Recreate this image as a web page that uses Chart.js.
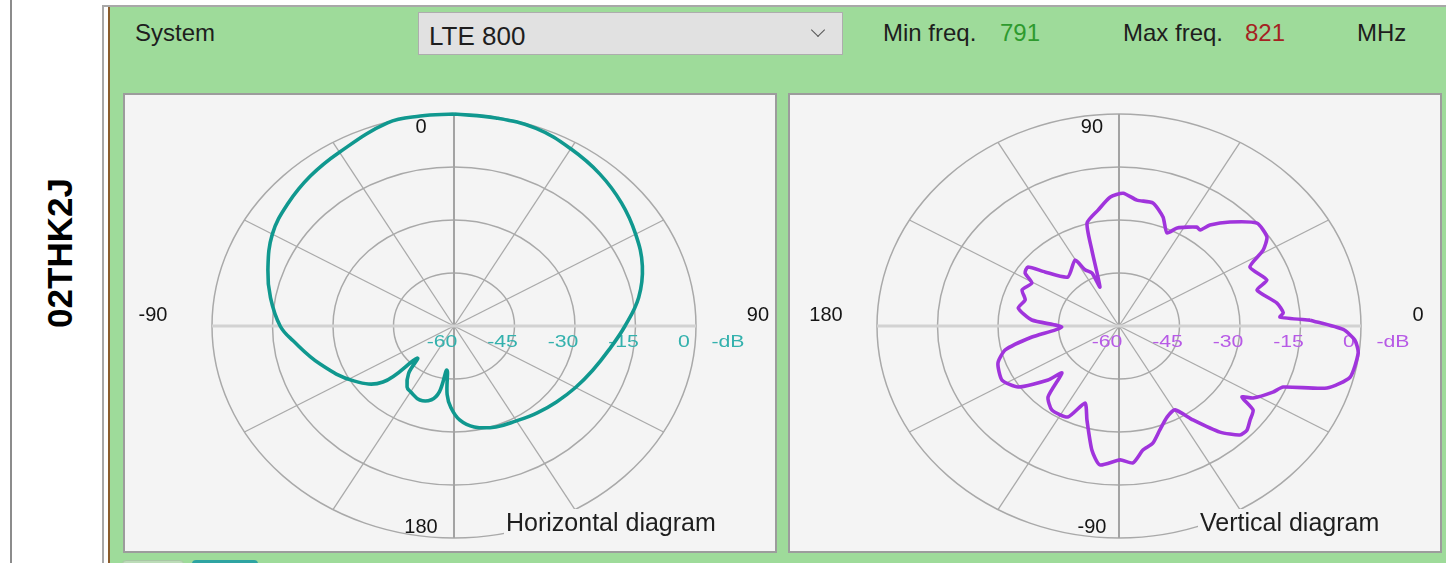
<!DOCTYPE html>
<html lang="en">
<head>
<meta charset="UTF-8">
<title>Antenna diagrams - LTE 800</title>
<script src="https://cdn.jsdelivr.net/npm/chart.js@4.4.0/dist/chart.umd.min.js"></script>
<style>
    body {
        margin: 0;
        width: 1446px;
        height: 563px;
        background: #fff;
        position: relative;
        overflow: hidden;
        font-family: 'Liberation Sans', Arial, sans-serif;
        color: #1e1e1e;
    }
    .abs { position: absolute; }
    .rule { left: 10px; top: 0; width: 2px; height: 563px; background: #8c8c8c; }
    .antenna-id {
        left: 60px; top: 253px;
        transform: translate(-50%, -50%) rotate(-90deg);
        font-weight: bold; font-size: 35px; color: #000; white-space: nowrap;
    }
    .frame { left: 102px; top: 5px; width: 1344px; height: 558px; border-left: 2px solid #a8a8a8; border-top: 2px solid #a8a8a8; }
    .green { left: 108px; top: 7px; width: 1338px; height: 556px; background: #9edb9a; border-left: 2px solid #8a5c2c; }
    .txt { font-size: 24px; line-height: 1; white-space: nowrap; }
    .combo { left: 418px; top: 12px; width: 423px; height: 41px; background: #e1e1e1; border: 1px solid #adadad; }
    .combo span { position: absolute; left: 10px; top: 8px; font-size: 26px; }
    .chev { left: 813px; top: 25px; width: 9px; height: 9px; border-right: 1.5px solid #555; border-bottom: 1.5px solid #555; transform: rotate(45deg); }
    .panel { width: 650px; height: 456px; background: #f4f4f4; border: 2px solid #9c9c9c; top: 93px; }
    .panel canvas { display: block; }
    .tab { top: 560px; height: 8px; border-radius: 4px 4px 0 0; }
</style>
</head>
<body>

<div class="abs rule"></div>
<div class="abs antenna-id" id="antennaId"></div>
<div class="abs frame"></div>
<div class="abs green"></div>

<div class="abs txt" style="left:135px; top:21px;">System</div>
<div class="abs combo"><span id="systemName"></span></div>
<div class="abs chev"></div>
<div class="abs txt" style="left:883px; top:21px;">Min freq.</div>
<div class="abs txt" id="minFreq" style="left:1000px; top:21px; color:#2e9a2e;"></div>
<div class="abs txt" style="left:1123px; top:21px;">Max freq.</div>
<div class="abs txt" id="maxFreq" style="left:1245px; top:21px; color:#a52222;"></div>
<div class="abs txt" style="left:1357px; top:21px;">MHz</div>

<div class="abs panel" style="left:123px;"><canvas id="hChart" width="650" height="456"></canvas></div>
<div class="abs panel" style="left:788px;"><canvas id="vChart" width="650" height="456"></canvas></div>

<div class="abs tab" style="left:122px; width:60px; background:#bcdcb8; border:1px solid #a9c7a5;"></div>
<div class="abs tab" style="left:192px; width:66px; background:#2ea4a2;"></div>

<script>
    // Cabecera
    const antennaId = '02THK2J';
    const systemName = 'LTE 800';
    const minFreq = 791;
    const maxFreq = 821;

    // Escala radial (dB) y etiquetas de los ejes
    const ringLevels = [-60, -45, -30, -15, 0];
    const unitLabel = '-dB';
    const hCompass = ['0', '90', '180', '-90'];     // arriba, derecha, abajo, izquierda
    const vCompass = ['90', '0', '-90', '180'];

    // Diagrama horizontal: ángulo en grados (horario desde arriba), nivel en dB
    const hAngles = [0, 10, 20, 30, 40, 50, 60, 70, 80, 90, 100, 110, 120, 130, 140, 150, 160, 170,
                     177, 182, 185, 188, 191, 195, 202, 210, 214, 220, 225, 228, 238, 252, 264, 270,
                     280, 289, 300, 310, 320, 330, 344, 352];
    const hLevels = [0, -0.2, -0.5, -2.1, -3.8, -5.8, -8.0, -10.3, -13.5, -17.6, -21.0, -23.4, -25.2, -26.7, -27.9, -29.0, -29.6, -31.0,
                     -33.4, -37.0, -40.5, -47.4, -41.0, -38.4, -37.4, -38.5, -39.2, -42.5, -47.1, -36.3, -30.7, -25.1, -19.9, -16.9,
                     -13.8, -11.2, -8.0, -6.2, -4.6, -3.2, -0.2, 0];

    // Diagrama vertical: ángulo en grados (antihorario desde la derecha), nivel en dB
    const vAngles = [2.0, 3.6, 5.2, 9.4, 16.6, 19.5, 27.2, 31.0, 34.5, 40.4, 46.9, 51.7, 53.5, 55.4, 62.5, 65.7,
                     70.5, 76.4, 82.9, 88.4, 93.5, 99.0, 105.2, 107.4, 113.2, 114.0, 117.9, 120.3, 132.4, 140.2,
                     143.5, 147.2, 150.6, 157.0, 162.4, 168.5, 175.5, 181.2, 188.2, 193.5, 199.3, 207.8, 214.6,
                     221.0, 223.2, 228.8, 235.0, 243.8, 248.9, 253.4, 259.2, 263.1, 270.4, 275.1, 279.6, 284.2,
                     289.0, 294.8, 300.3, 304.6, 309.8, 314.2, 317.1, 320.7, 324.4, 326.6, 328.5, 333.9, 337.0,
                     341.2, 345.8, 352.7, 356.1, 359.0];
    const vLevels = [-12.6, -20.0, -19.1, -20.3, -24.3, -21.1, -23.5, -18.3, -15.5, -15.1, -19.7, -23.6, -26.2, -26.0, -28.7, -31.1,
                     -27.3, -24.2, -24.1, -22.4, -23.5, -26.8, -29.8, -37.5, -48.0, -43.6, -42.0, -38.4, -41.2, -36.1,
                     -31.9, -32.3, -35.2, -33.9, -35.6, -34.5, -38.3, -45.8, -38.2, -31.0, -28.2, -27.2, -29.6,
                     -36.7, -40.6, -33.3, -31.0, -31.3, -36.6, -32.2, -24.2, -20.4, -22.1, -21.1, -24.4, -25.8,
                     -28.9, -31.6, -32.5, -27.7, -20.9, -17.0, -16.7, -18.0, -19.1, -23.5, -21.0, -17.5, -15.8,
                     -5.5, -0.9, -0.2, -1.4, -4.4];

    document.getElementById('antennaId').textContent = antennaId;
    document.getElementById('systemName').textContent = systemName;
    document.getElementById('minFreq').textContent = minFreq;
    document.getElementById('maxFreq').textContent = maxFreq;

    const base = ringLevels[0];
    const rMax = ringLevels[ringLevels.length - 1] - base;

    // Pasa (ángulo, dB) a coordenadas x/y del gráfico
    function toPoints(angles, levels, clockwiseFromTop) {
        const pts = angles.map((a, i) => {
            const r = Math.max(0, levels[i] - base);
            const rad = a * Math.PI / 180;
            return clockwiseFromTop
                ? { x: r * Math.sin(rad), y: r * Math.cos(rad) }
                : { x: r * Math.cos(rad), y: r * Math.sin(rad) };
        });
        pts.push(pts[0]); // cerrar la curva
        return pts;
    }

    function stretchedText(ctx, text, x, y, sx) {
        ctx.save();
        ctx.translate(x, y);
        ctx.scale(sx, 1);
        ctx.fillText(text, 0, 0);
        ctx.restore();
    }

    // Rejilla polar elíptica, etiquetas y título
    const polarGrid = {
        id: 'polarGrid',
        beforeDatasetsDraw(chart, args, opts) {
            const ctx = chart.ctx;
            const xs = chart.scales.x, ys = chart.scales.y;
            const cx = xs.getPixelForValue(0), cy = ys.getPixelForValue(0);
            const Rx = xs.getPixelForValue(rMax) - cx;
            const Ry = cy - ys.getPixelForValue(rMax);
            ctx.save();

            // anillos
            ctx.strokeStyle = '#a9a9a9';
            ctx.lineWidth = 1.5;
            ringLevels.slice(1).forEach(l => {
                const r = l - base;
                ctx.beginPath();
                ctx.ellipse(cx, cy, xs.getPixelForValue(r) - cx, cy - ys.getPixelForValue(r), 0, 0, Math.PI * 2);
                ctx.stroke();
            });

            // radios cada 30 grados
            ctx.lineWidth = 1.3;
            for (let k = 0; k < 12; k++) {
                if (k % 3 === 0) continue;
                const a = k * Math.PI / 6;
                ctx.beginPath();
                ctx.moveTo(cx, cy);
                ctx.lineTo(cx + Rx * Math.sin(a), cy - Ry * Math.cos(a));
                ctx.stroke();
            }
            // ejes
            ctx.strokeStyle = '#a3a3a3';
            ctx.lineWidth = 2;
            ctx.beginPath();
            ctx.moveTo(cx, cy - Ry);
            ctx.lineTo(cx, cy + Ry);
            ctx.stroke();
            ctx.strokeStyle = '#d2d2d2';
            ctx.lineWidth = 3;
            ctx.beginPath();
            ctx.moveTo(cx - Rx, cy);
            ctx.lineTo(cx + Rx, cy);
            ctx.stroke();

            // etiquetas de nivel
            ctx.fillStyle = opts.tickColor;
            ctx.font = '17px "Liberation Sans", Arial, sans-serif';
            ctx.textAlign = 'center';
            ctx.textBaseline = 'middle';
            ringLevels.forEach(l => {
                const px = xs.getPixelForValue(l - base);
                stretchedText(ctx, String(l), px - 12, cy + 16, 1.25);
            });
            stretchedText(ctx, unitLabel, cx + Rx + 32, cy + 16, 1.25);

            // etiquetas de ángulo
            ctx.fillStyle = '#151515';
            ctx.font = '20px "Liberation Sans", Arial, sans-serif';
            const c = opts.compass;
            ctx.fillText(c[0], cx + opts.topDx, cy - 199);
            ctx.fillText(c[1], cx + opts.rightDx, cy - 11);
            ctx.fillText(c[2], cx + opts.topDx, cy + 201);
            ctx.fillText(c[3], cx + opts.leftDx, cy - 11);

            // título del diagrama
            ctx.font = '25px "Liberation Sans", Arial, sans-serif';
            ctx.textAlign = 'left';
            const w = ctx.measureText(opts.title).width;
            ctx.fillStyle = '#f4f4f4';
            ctx.fillRect(opts.titleX - 2, 414, w + 6, 40);
            ctx.fillStyle = '#1e1e1e';
            ctx.fillText(opts.title, opts.titleX, 429);
            ctx.restore();
        }
    };

    function makeChart(id, points, color, tension, gridOpts) {
        return new Chart(document.getElementById(id).getContext('2d'), {
            type: 'scatter',
            data: {
                datasets: [{
                    data: points,
                    showLine: true,
                    borderColor: color,
                    borderWidth: 3.6,
                    pointRadius: 0,
                    tension: tension,
                    fill: false
                }]
            },
            options: {
                responsive: false,
                animation: false,
                devicePixelRatio: 1,
                layout: { padding: 0 },
                plugins: {
                    legend: { display: false },
                    tooltip: { enabled: false },
                    polarGrid: gridOpts
                },
                scales: {
                    x: { type: 'linear', display: false, min: -81.57, max: 79.59 },
                    y: { type: 'linear', display: false, min: -63.68, max: 65.38 }
                }
            },
            plugins: [polarGrid]
        });
    }

    makeChart('hChart', toPoints(hAngles, hLevels, true), '#10988f', 0.4, {
        tickColor: '#33b1ad', compass: hCompass, title: 'Horizontal diagram', titleX: 381,
        topDx: -33, rightDx: 304, leftDx: -301
    });
    makeChart('vChart', toPoints(vAngles, vLevels, false), '#a034dc', 0.2, {
        tickColor: '#b75ae6', compass: vCompass, title: 'Vertical diagram', titleX: 410,
        topDx: -27, rightDx: 299, leftDx: -293
    });
</script>

</body>
</html>
